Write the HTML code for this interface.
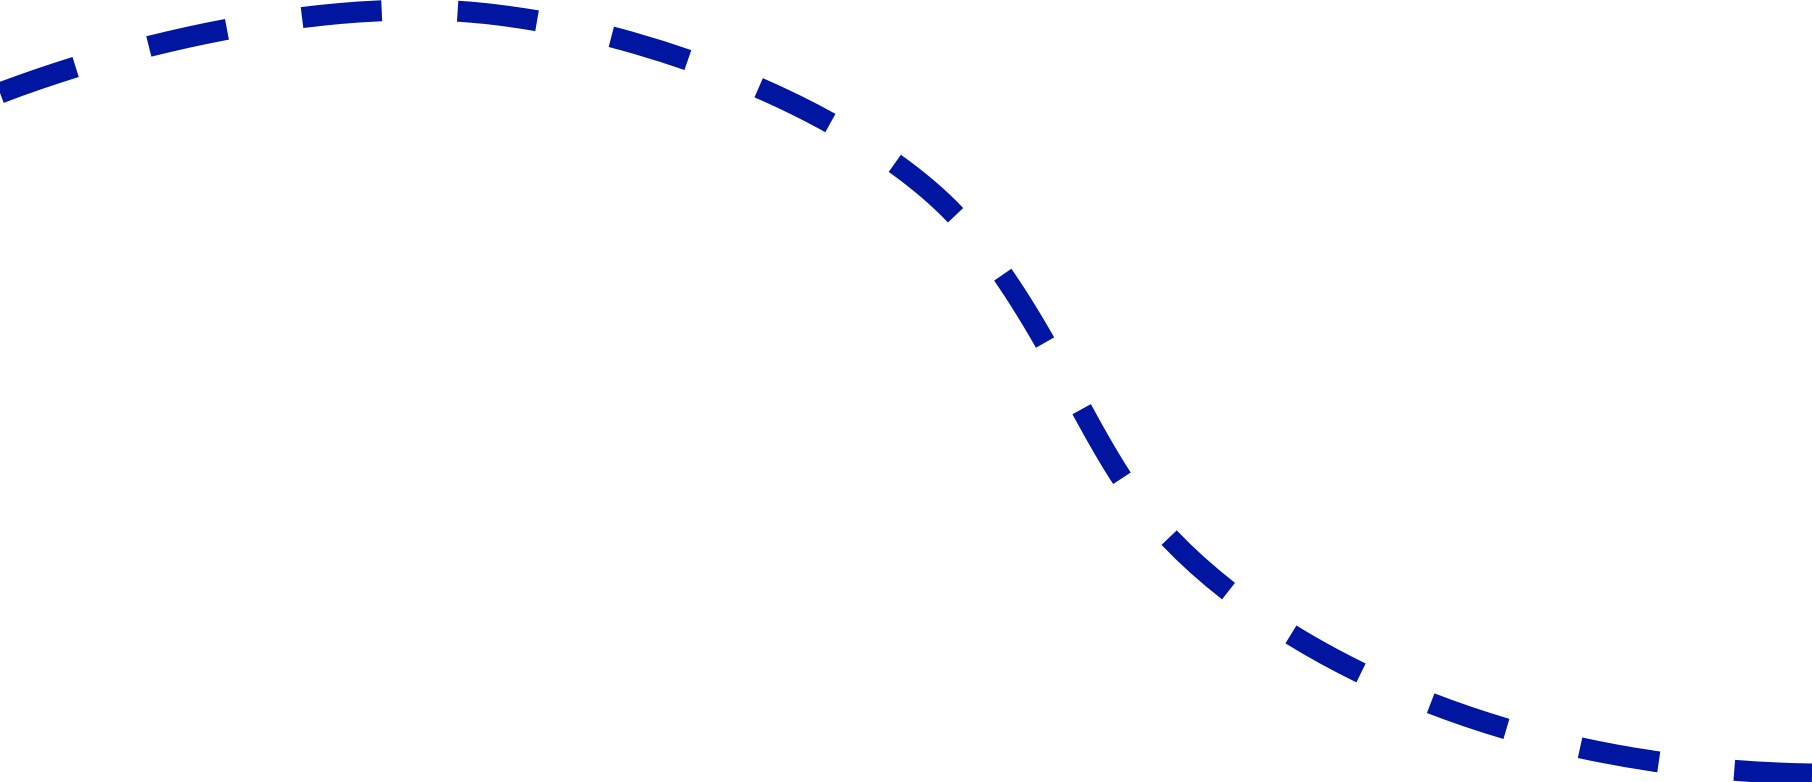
<!DOCTYPE html>
<html><head><style>html,body{margin:0;padding:0;background:#fff;}svg{display:block}</style></head>
<body>
<svg width="1812" height="782" viewBox="0 0 1812 782" xmlns="http://www.w3.org/2000/svg">
<path d="M0,93 C140,40 300,8 430,10 C620,14 860,110 960,220 C1040,310 1080,420 1130,490 C1220,620 1460,768 1812,774" fill="none" stroke="#0015a0" stroke-width="21" stroke-dasharray="80 76"/>
</svg>
</body></html>
